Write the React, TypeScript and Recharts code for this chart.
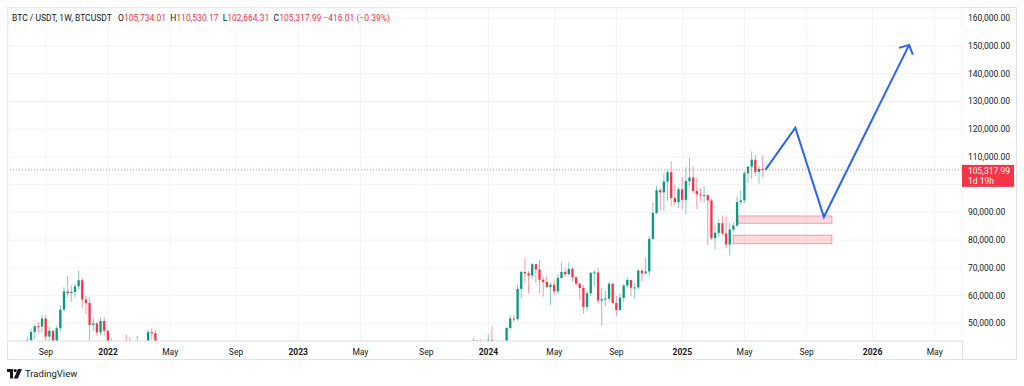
import React from 'react';
import {
  ComposedChart,
  Bar,
  Line,
  XAxis,
  YAxis,
  CartesianGrid,
  ReferenceArea,
  ReferenceLine,
} from 'recharts';

const GREEN = '#089981';
const RED = '#f23645';
const BLUE = '#2962ff';
const TEXT = '#131722';
const FONT = 'Roboto, "Liberation Sans", sans-serif';

// weeks are counted from the weekly candle of 3 Jan 2022
const WEEK_MS = 7 * 24 * 3600 * 1000;
const ORIGIN = Date.UTC(2022, 0, 3);
const weekOf = (iso: string) => Math.round((Date.parse(iso + 'T00:00:00Z') - ORIGIN) / WEEK_MS);

// BTC/USDT weekly candles, Aug 2021 - Apr 2022
const start2021 = '2021-08-02';
const open2021 = [39800, 43800, 46900, 48900, 48800, 51700, 45200, 47300, 43200, 48200, 54900, 61500, 60900, 61300, 63300, 65500, 58600, 57300, 49400, 49900, 46700, 50800, 47300, 41900, 43100, 36300, 37900, 42400, 42200, 38400, 37700, 38800, 37800, 41300, 46800, 46400, 42200];
const high2021 = [45300, 48100, 49400, 50500, 52900, 52900, 48800, 47400, 49200, 56600, 62900, 67000, 63700, 64300, 69000, 66400, 59900, 59200, 51900, 50600, 52100, 52100, 47600, 44500, 43500, 38900, 42600, 45800, 44800, 39800, 45400, 42600, 42400, 47700, 48200, 47500, 42400];
const low2021 = [37600, 42800, 44300, 46400, 46600, 42800, 43400, 39600, 40800, 46900, 54400, 59500, 57800, 59400, 62300, 55600, 53300, 42000, 47100, 45500, 45600, 45700, 39600, 39700, 34000, 32900, 36200, 41700, 38000, 34300, 37500, 37200, 37600, 40500, 44200, 41900, 39200];
const close2021 = [43800, 46900, 48900, 48800, 51700, 45200, 47300, 43200, 48200, 54900, 61500, 60900, 61300, 63300, 65500, 58600, 57300, 49400, 49900, 46700, 50800, 47300, 41900, 43100, 36300, 37900, 42400, 42200, 38400, 37700, 38800, 37800, 41300, 46800, 46400, 42200, 39500];

// BTC/USDT weekly candles, Dec 2023 - Jun 2025
const start2024 = '2023-12-04';
const open2024 = [40000, 43800, 41400, 43000, 42300, 43900, 41700, 41600, 42000, 42600, 48300, 51700, 51500, 62400, 68500, 68000, 67200, 71300, 69400, 65700, 64900, 63100, 63900, 61500, 66300, 68500, 67700, 69600, 66600, 64300, 62700, 55900, 60800, 68200, 68300, 58200, 58700, 58900, 64200, 57300, 54800, 59200, 63600, 65600, 62800, 62900, 69000, 68000, 68700, 80400, 89800, 98000, 97200, 101100, 104500, 95200, 93700, 98300, 94500, 101300, 102600, 97700, 96500, 96100, 96200, 94300, 80700, 82600, 86100, 82400, 78400, 83800, 85200, 93700, 94300, 104100, 106500, 109000, 104600, 105734.01];
const high2024 = [44700, 43800, 44400, 43800, 45900, 49000, 43600, 42800, 43900, 48600, 52800, 53000, 64000, 69000, 73600, 68900, 71800, 71400, 72800, 66900, 67200, 64700, 65500, 67700, 72000, 70000, 72000, 70200, 67000, 64500, 63800, 61400, 68400, 69400, 70000, 62700, 61800, 65000, 64500, 59800, 60700, 64100, 66500, 65600, 64500, 69400, 69500, 73600, 81500, 93500, 99600, 98700, 104000, 105300, 108400, 99900, 99000, 102700, 106400, 109600, 106500, 102500, 98800, 99500, 96500, 95000, 85300, 87500, 88800, 88500, 86100, 86400, 95800, 97900, 104900, 106600, 112000, 110700, 106800, 110530.17];
const low2024 = [39900, 40200, 40500, 41300, 40800, 41500, 40300, 38600, 41800, 42300, 47700, 50500, 50900, 59000, 64500, 60800, 66000, 64500, 60700, 59600, 62800, 56600, 60200, 60700, 66100, 66700, 67100, 65000, 63400, 58400, 53500, 54300, 59700, 63400, 57100, 49000, 56100, 57800, 57200, 52500, 54600, 57500, 62700, 59800, 58900, 62400, 65100, 67500, 66800, 80200, 89400, 90800, 90500, 94200, 92200, 92500, 91500, 91200, 89300, 99600, 96800, 91200, 94100, 93400, 78200, 80000, 76600, 81200, 81600, 77200, 74500, 83000, 85100, 92800, 93400, 100700, 102100, 103100, 100400, 102664.31];
const close2024 = [43800, 41400, 43000, 42300, 43900, 41700, 41600, 42000, 42600, 48300, 51700, 51500, 62400, 68500, 68000, 67200, 71300, 69400, 65700, 64900, 63100, 63900, 61500, 66300, 68500, 67700, 69600, 66600, 64300, 62700, 55900, 60800, 68200, 68300, 58200, 58700, 58900, 64200, 57300, 54800, 59200, 63600, 65600, 62800, 62900, 69000, 68000, 68700, 80400, 89800, 98000, 97200, 101100, 104500, 95200, 93700, 98300, 94500, 101300, 102600, 97700, 96500, 96100, 96200, 94300, 80700, 82600, 86100, 82400, 78400, 83800, 85200, 93700, 94300, 104100, 106500, 109000, 104600, 105700, 105317.99];

const tickDates = ['2021-09-06', '2022-01-03', '2022-05-02', '2022-09-05', '2023-01-02', '2023-05-01', '2023-09-04', '2024-01-01', '2024-05-06', '2024-09-02', '2025-01-06', '2025-05-05', '2025-09-01', '2026-01-05', '2026-05-04'];
const tickLabels = ['Sep', '2022', 'May', 'Sep', '2023', 'May', 'Sep', '2024', 'May', 'Sep', '2025', 'May', 'Sep', '2026', 'May'];
const priceTicks = [50000, 60000, 70000, 80000, 90000, 100000, 110000, 120000, 130000, 140000, 150000, 160000];

// hand-drawn projection (weeks, price)
const projWeeks = [179.7, 187.9, 195.7, 219.0];
const projPrices = [105300, 120500, 88300, 150400];

// support boxes
const zoneWeeks = [[172.2, 197.9], [170.9, 197.9]];
const zonePrices = [[86050, 88700], [78700, 81750]];

const build = (start: string, o: number[], h: number[], l: number[], c: number[]) =>
  o.map((v, i) => ({ w: weekOf(start) + i, open: v, high: h[i], low: l[i], close: c[i] }));

const candles = [
  ...build(start2021, open2021, high2021, low2021, close2021),
  ...build(start2024, open2024, high2024, low2024, close2024),
];
const last = candles[candles.length - 1];
const tickWeeks = tickDates.map(weekOf);
const projData = projWeeks.map((w, i) => ({ w, p: projPrices[i] }));

const fmt = (v: number) =>
  v.toLocaleString('en-US', { minimumFractionDigits: 2, maximumFractionDigits: 2 });

const renderCandle = (props: any) => {
  const { x, y, width, height, payload } = props;
  const { open, close, high, low } = payload;
  const color = close >= open ? GREEN : RED;
  const k = high === low ? 0 : height / (high - low);
  const yo = y + (high - open) * k;
  const yc = y + (high - close) * k;
  const cx = x + width / 2;
  return (
    <g>
      <line x1={cx} x2={cx} y1={y} y2={y + height} stroke={color} strokeOpacity={0.5} strokeWidth={1} />
      <rect x={x} y={Math.min(yo, yc)} width={width} height={Math.max(1, Math.abs(yo - yc))} fill={color} />
    </g>
  );
};

let prevPt = { x: 0, y: 0 };
const renderArrow = (props: any) => {
  const { cx, cy, index } = props;
  if (index < projData.length - 1) {
    prevPt = { x: cx, y: cy };
    return <g key={`a-${index}`} />;
  }
  const ang = Math.atan2(cy - prevPt.y, cx - prevPt.x) + Math.PI;
  const len = 10.5;
  const s = 0.82;
  const p1 = [cx + len * Math.cos(ang - s), cy + len * Math.sin(ang - s)];
  const p2 = [cx + len * Math.cos(ang + s), cy + len * Math.sin(ang + s)];
  return (
    <path
      key={`a-${index}`}
      d={`M${p1[0]},${p1[1]} L${cx},${cy} L${p2[0]},${p2[1]}`}
      stroke={BLUE}
      strokeWidth={2}
      fill="none"
    />
  );
};

// y tick that leaves room for the live price tag
const PriceTick = (props: any) => {
  const { x, y, payload } = props;
  const tagTop = props.tagY - 5;
  const hidden = y > tagTop && y < tagTop + 22 + 3;
  return (
    <g>
      <text x={x} y={y} dy="0.355em" fontSize={8.5} fontFamily={FONT} fill={TEXT} opacity={hidden ? 0 : 1}>
        {fmt(payload.value)}
      </text>
    </g>
  );
};

const PriceTag = (props: any) => {
  const { viewBox } = props;
  const x = viewBox.x + viewBox.width;
  const y = viewBox.y;
  return (
    <g>
      <rect x={x} y={y - 5} width={52} height={22} fill={RED} />
      <text x={x + 6} y={y + 3.8} fill="#fff" fontSize={8.5} fontFamily={FONT}>{fmt(last.close)}</text>
      <text x={x + 6} y={y + 14.6} fill="#fff" fontSize={8.5} fontFamily={FONT}>1d 19h</text>
    </g>
  );
};

const TimeTick = (props: any) => {
  const { x, y, payload } = props;
  const label = tickLabels[tickWeeks.indexOf(payload.value)];
  const isYear = /^\d{4}$/.test(label);
  return (
    <text x={x} y={y + 14} textAnchor="middle" fontSize={8.5} fontFamily={FONT} fontWeight={isYear ? 700 : 400} fill={TEXT}>
      {label}
    </text>
  );
};

const Logo = () => (
  <svg width={15} height={10} viewBox="0 0 15 10">
    <path d="M0 0 H6 V9.5 H3 V3 H0 Z" fill={TEXT} />
    <circle cx={8.3} cy={1.6} r={1.6} fill={TEXT} />
    <path d="M11 0 H15 L10.8 9.5 H6.8 Z" fill={TEXT} />
  </svg>
);

export default function App() {
  return (
    <div style={{ position: 'absolute', left: 0, top: 0, width: 1024, height: 386, background: '#fff', fontFamily: FONT }}>
      <div style={{ position: 'absolute', left: 7, top: 7, width: 1010, height: 353, border: '1px solid #e0e3eb', boxSizing: 'border-box' }} />
      <div style={{ position: 'absolute', left: 962, top: 341, width: 1, height: 19, background: '#e0e3eb' }} />
      <ComposedChart
        width={1024}
        height={386}
        data={candles}
        margin={{ top: 8, right: 8, bottom: 26, left: 8 }}
        style={{ position: 'absolute', left: 0, top: 0 }}
      >
        <CartesianGrid stroke="#f0f3fa" />
        <XAxis
          dataKey="w"
          type="number"
          domain={[-27.34, 233.46]}
          allowDataOverflow
          ticks={tickWeeks}
          tick={<TimeTick />}
          tickLine={false}
          tickSize={0}
          tickMargin={0}
          height={19}
          stroke="#e0e3eb"
        />
        <YAxis
          orientation="right"
          type="number"
          domain={[43600, 163700]}
          allowDataOverflow
          ticks={priceTicks}
          tick={<PriceTick tagY={8 + ((163700 - last.close) / (163700 - 43600)) * 333} />}
          tickLine={false}
          axisLine={false}
          tickSize={0}
          tickMargin={6}
          width={54}
        />
        <ReferenceArea x1={zoneWeeks[0][0]} x2={zoneWeeks[0][1]} y1={zonePrices[0][0]} y2={zonePrices[0][1]} fill={RED} fillOpacity={0.18} stroke={RED} strokeOpacity={0.45} />
        <ReferenceArea x1={zoneWeeks[1][0]} x2={zoneWeeks[1][1]} y1={zonePrices[1][0]} y2={zonePrices[1][1]} fill={RED} fillOpacity={0.18} stroke={RED} strokeOpacity={0.45} />
        <ReferenceLine y={last.close} stroke={RED} strokeOpacity={0.6} strokeDasharray="1 2" label={<PriceTag />} zIndex={2000} />
        <Bar dataKey={(d: any) => [d.low, d.high]} barSize={2.6} shape={renderCandle} isAnimationActive={false} />
        <Line data={projData} dataKey="p" type="linear" stroke={BLUE} strokeWidth={2} dot={renderArrow} activeDot={false} isAnimationActive={false} />
      </ComposedChart>
      <div style={{ position: 'absolute', left: 12, top: 12, fontSize: 8.5, color: TEXT, whiteSpace: 'nowrap', lineHeight: '12px' }}>
        BTC / USDT, 1W, BTCUSDT&nbsp;&nbsp;
        O<span style={{ color: RED }}>{fmt(last.open)}</span>&nbsp;
        H<span style={{ color: RED }}>{fmt(last.high)}</span>&nbsp;
        L<span style={{ color: RED }}>{fmt(last.low)}</span>&nbsp;
        C<span style={{ color: RED }}>{fmt(last.close)}</span>&nbsp;
        <span style={{ color: RED }}>−416.01 (−0.39%)</span>
      </div>
      <div style={{ position: 'absolute', left: 7, top: 368, display: 'flex', alignItems: 'center', gap: 3, fontSize: 9.5, color: TEXT }}>
        <Logo />
        <span>TradingView</span>
      </div>
    </div>
  );
}
